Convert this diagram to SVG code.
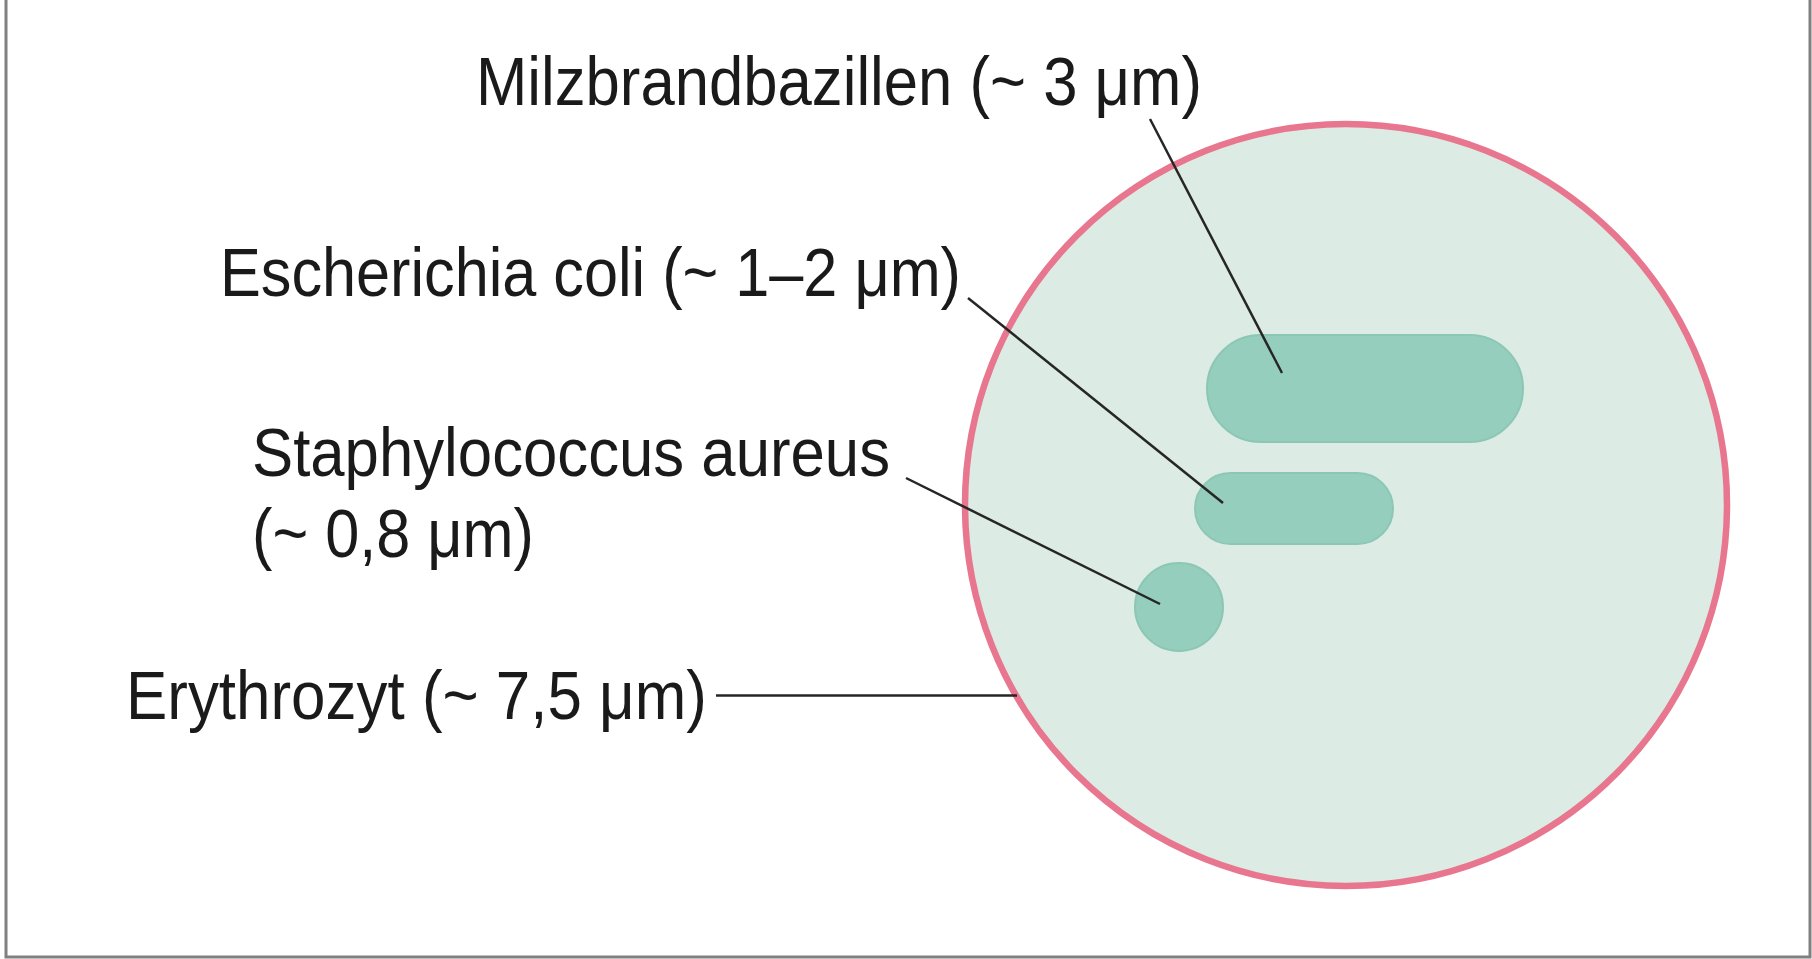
<svg xmlns="http://www.w3.org/2000/svg" width="1812" height="959" viewBox="0 0 1812 959">
<style>
.lbl{font-family:"Liberation Sans",Arial,sans-serif;font-size:68px;fill:#1a1a1a}
.lead{stroke:#262626;stroke-width:2.5;fill:none}
.bact{fill:#96cebd;stroke:#8cc7b5;stroke-width:2}
</style>
<rect width="1812" height="959" fill="#ffffff"/>
<path d="M6,0 V957 H1810 V0" fill="none" stroke="#808080" stroke-width="3"/>
<g id="erythrozyt">
<circle cx="1346" cy="505" r="381" fill="#dcebe4" stroke="#e8768f" stroke-width="6.5"/>
</g>
<g id="milzbrand">
<rect class="bact" x="1207" y="335" width="316" height="107" rx="53.5" ry="53.5"/>
</g>
<g id="ecoli">
<rect class="bact" x="1195" y="473" width="198" height="71" rx="35.5" ry="35.5"/>
</g>
<g id="staph">
<ellipse class="bact" cx="1179" cy="607" rx="44" ry="44"/>
</g>
<g id="connectors">
<line class="lead" x1="1150" y1="119" x2="1282" y2="373"/>
<line class="lead" x1="968" y1="298" x2="1223" y2="503"/>
<line class="lead" x1="906" y1="478" x2="1160" y2="604"/>
<line class="lead" x1="716" y1="695.5" x2="1017" y2="695.5"/>
</g>
<g id="labels">
<text class="lbl" x="476" y="105" textLength="726" lengthAdjust="spacingAndGlyphs">Milzbrandbazillen (~ 3 μm)</text>
<text class="lbl" x="220" y="296" textLength="741" lengthAdjust="spacingAndGlyphs">Escherichia coli (~ 1–2 μm)</text>
<text class="lbl" x="252" y="476" textLength="638" lengthAdjust="spacingAndGlyphs">Staphylococcus aureus</text>
<text class="lbl" x="252" y="557" textLength="282" lengthAdjust="spacingAndGlyphs">(~ 0,8 μm)</text>
<text class="lbl" x="126" y="719" textLength="581" lengthAdjust="spacingAndGlyphs">Erythrozyt (~ 7,5 μm)</text>
</g>
</svg>
